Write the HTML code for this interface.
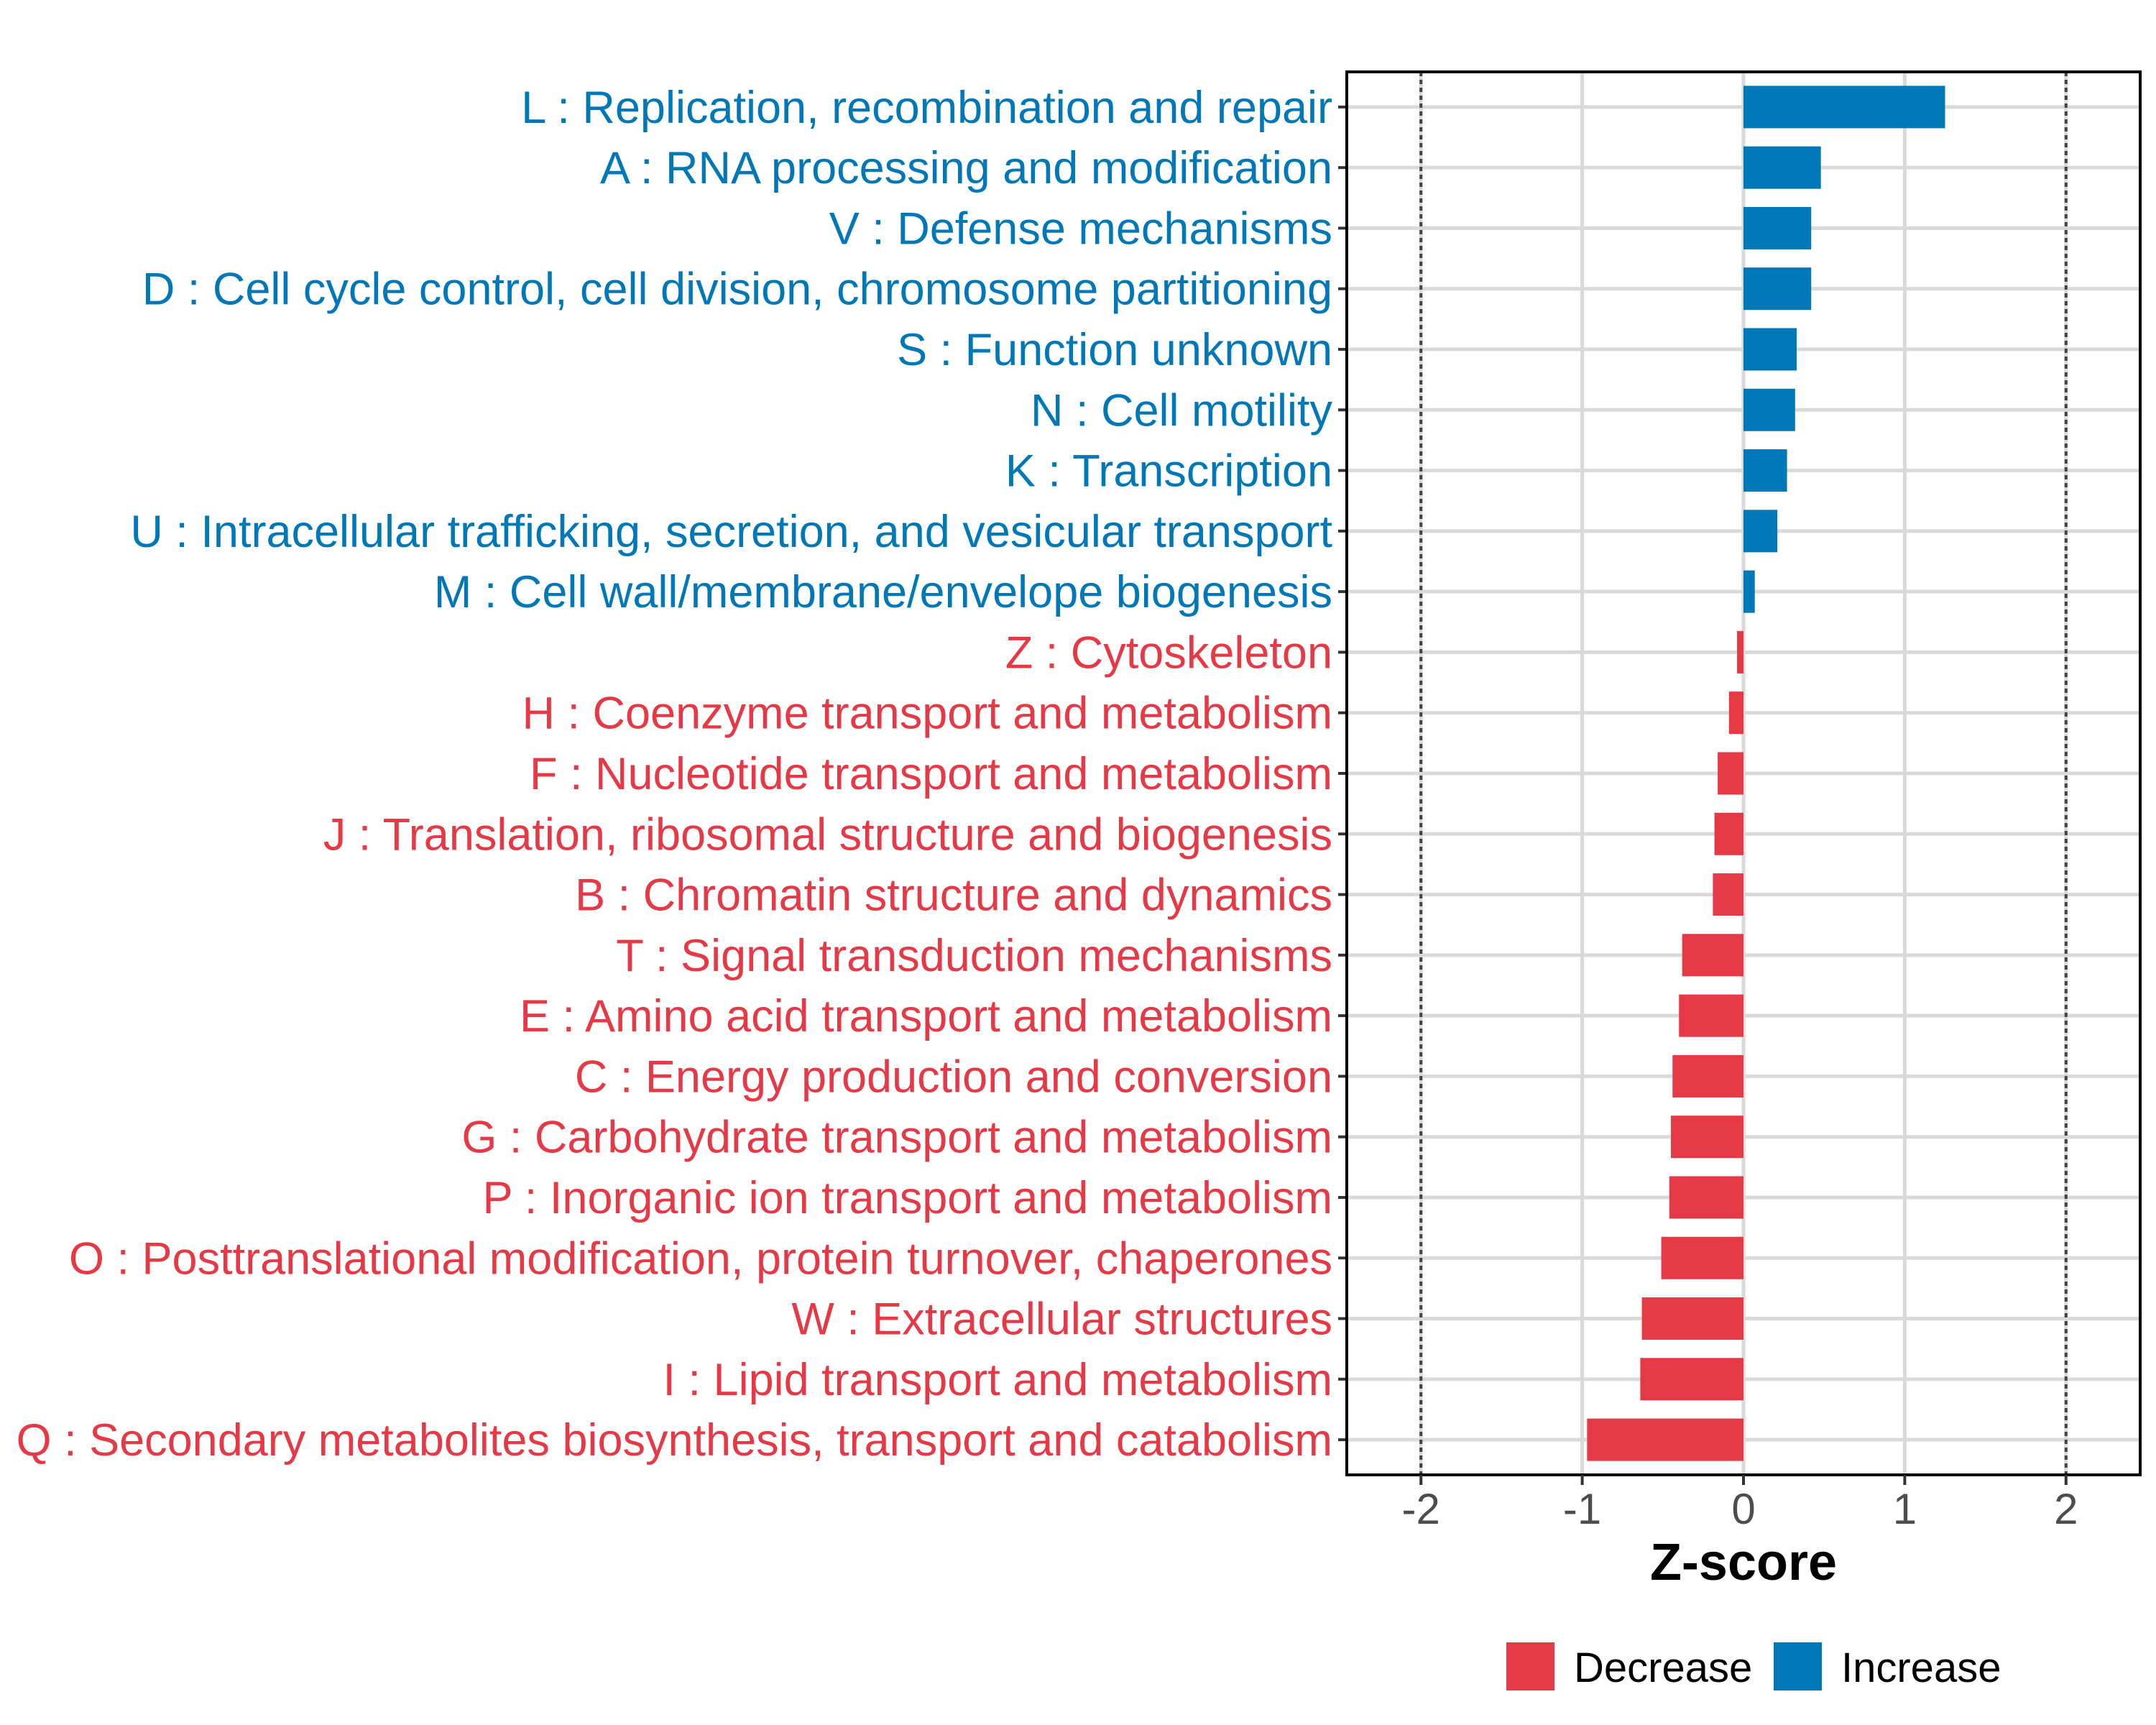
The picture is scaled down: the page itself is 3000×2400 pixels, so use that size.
<!DOCTYPE html>
<html><head><meta charset="utf-8"><style>
html,body{margin:0;padding:0;background:#fff;}
svg{display:block;font-family:"Liberation Sans",Arial,sans-serif;}
</style></head><body>
<svg id="chart" width="3000" height="2400" viewBox="0 0 3000 2400"></svg>
<script>
const categories = ["L : Replication, recombination and repair","A : RNA processing and modification","V : Defense mechanisms","D : Cell cycle control, cell division, chromosome partitioning","S : Function unknown","N : Cell motility","K : Transcription","U : Intracellular trafficking, secretion, and vesicular transport","M : Cell wall/membrane/envelope biogenesis","Z : Cytoskeleton","H : Coenzyme transport and metabolism","F : Nucleotide transport and metabolism","J : Translation, ribosomal structure and biogenesis","B : Chromatin structure and dynamics","T : Signal transduction mechanisms","E : Amino acid transport and metabolism","C : Energy production and conversion","G : Carbohydrate transport and metabolism","P : Inorganic ion transport and metabolism","O : Posttranslational modification, protein turnover, chaperones","W : Extracellular structures","I : Lipid transport and metabolism","Q : Secondary metabolites biosynthesis, transport and catabolism"];
const zscores = [1.25,0.48,0.42,0.42,0.33,0.32,0.27,0.21,0.07,-0.04,-0.09,-0.16,-0.18,-0.19,-0.38,-0.40,-0.44,-0.45,-0.46,-0.51,-0.63,-0.64,-0.97];
const xTicks = [-2,-1,0,1,2];
const xTickLabels = ["-2","-1","0","1","2"];
const legendLabels = ["Decrease","Increase"];

const NS="http://www.w3.org/2000/svg";
const svg=document.getElementById('chart');
const RED="#E63946", BLUE="#0077B6";
const PL=1874, PR=2978, PT=100, PB=2052;
const XMIN=-2.46, XMAX=2.46;
const x=v=>PL+(v-XMIN)/(XMAX-XMIN)*(PR-PL);
const step=(PB-PT)/(categories.length-1+1.16);
const y=i=>PT+0.58*step+i*step;
function mk(tag,attrs,parent){const e=document.createElementNS(NS,tag);for(const k in attrs)e.setAttribute(k,attrs[k]);(parent||svg).appendChild(e);return e;}

xTicks.forEach((t,i)=>{
  const g=mk('line',{x1:x(t),x2:x(t),y1:PT,y2:PB,stroke:'#D9D9D9','stroke-width':5});
  
  
});
categories.forEach((c,i)=>{
  const g=mk('line',{x1:PL,x2:PR,y1:y(i),y2:y(i),stroke:'#D9D9D9','stroke-width':5});
  
  
});
[-2,2].forEach(t=>{
  const d=mk('line',{x1:x(t),x2:x(t),y1:PT,y2:PB,stroke:'#444','stroke-width':4,'stroke-dasharray':'6 5'});
  
  
});
const bh=step*0.7;
zscores.forEach((v,i)=>{
  const x0=x(Math.min(0,v)), x1=x(Math.max(0,v));
  const r=mk('rect',{x:x0,y:y(i)-bh/2,width:x1-x0,height:bh,fill:v>=0?BLUE:RED});
  
  
  const tk=mk('line',{x1:PL-12,x2:PL,y1:y(i),y2:y(i),stroke:'#333','stroke-width':4});
  
  
  const t=mk('text',{x:PL-20,y:y(i)+22,'text-anchor':'end','font-size':63,fill:v>=0?BLUE:RED});
  t.textContent=categories[i];
  
  
});
const b=mk('rect',{x:PL,y:PT,width:PR-PL,height:PB-PT,fill:'none',stroke:'#000','stroke-width':4});


xTicks.forEach((t,i)=>{
  const l=mk('line',{x1:x(t),x2:x(t),y1:PB,y2:PB+14,stroke:'#333','stroke-width':4});
  
  
  const tx=mk('text',{x:x(t),y:2120,'text-anchor':'middle','font-size':60,fill:'#4D4D4D'});
  tx.textContent=xTickLabels[i];
  
  
});
const title=mk('text',{x:x(0),y:2198,'text-anchor':'middle','font-size':72,'font-weight':'bold',fill:'#000'});
title.textContent='Z-score';


const lx=[2096,2468], tx=[2190,2562], lc=[RED,BLUE];
legendLabels.forEach((lab,i)=>{
  const k=mk('rect',{x:lx[i],y:2285,width:67,height:67,fill:lc[i]});
  
  
  const t=mk('text',{x:tx[i],y:2340,'font-size':58,fill:'#000'});
  t.textContent=lab;
  
  
});
</script>
</body></html>
